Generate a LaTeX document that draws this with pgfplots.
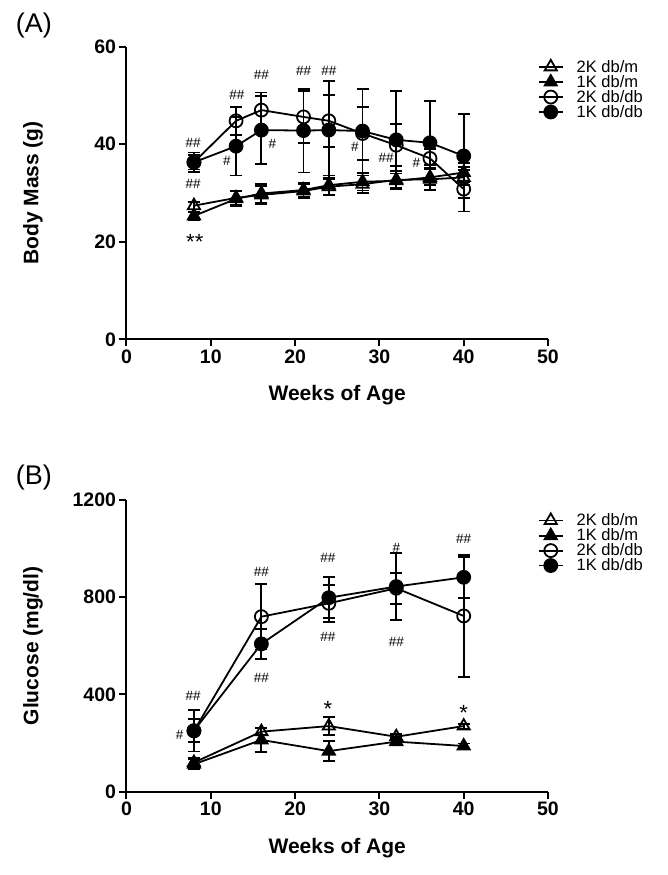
\documentclass[border=0pt]{standalone}
\usepackage{pgfplots}
\pgfplotsset{compat=1.18}
\usepackage{fontspec}
\setmainfont{Liberation Sans}

\pgfplotsset{
 panel/.style={
  scale only axis, width=421.5pt,
  xmin=0, xmax=50, xtick={0,10,...,50},
  axis x line*=bottom, axis y line*=left,
  axis line style={line width=2pt, -},
  tick style={line width=2pt, black},
  major tick length=7pt, tick align=outside,
  tick label style={font=\bfseries\fontsize{19.5}{19.5}\selectfont},
  /pgf/number format/assume math mode=true,
  /pgf/number format/1000 sep={},
  clip=false,
  label style={font=\bfseries\fontsize{21}{21}\selectfont},
  legend style={draw=none, fill=none, inner sep=0pt, outer sep=0pt, anchor=north west,
    font=\fontsize{16.5}{16.5}\selectfont, row sep=1.5pt, column sep=13pt,
    nodes={inner sep=0pt}},
  legend cell align=left,
  legend image code/.code={\draw[mark repeat=2,mark phase=2] plot coordinates {(0pt,0pt)(12pt,0pt)(24pt,0pt)};},
 },
 eb/.style={error bars/.cd, y dir=both, y explicit,
   error bar style={line width=1.8pt, black},
   error mark options={line width=1.8pt, mark size=6pt, rotate=90, black}},
 otri/.style={black, line width=1.8pt, mark=triangle, mark size=7pt, mark options={fill=none, solid}},
 ftri/.style={black, line width=1.8pt, mark=triangle*, mark size=7pt, mark options={fill=black, solid}},
 ocirc/.style={black, line width=1.8pt, mark=o, mark size=6.5pt, mark options={fill=none, solid}},
 fcirc/.style={black, line width=1.8pt, mark=*, mark size=6.5pt, mark options={fill=black, solid}},
}
\tikzset{
 hashs/.style={font=\fontsize{13.5}{13.5}\selectfont, inner sep=0pt},
 star/.style={font=\fontsize{22}{22}\selectfont, inner sep=0pt, yshift=-4.5pt},
}

\begin{document}
\begin{tikzpicture}[x=1pt,y=1pt]
\useasboundingbox (0,0) rectangle (667,875);

% ---------------- Panel A ----------------
\begin{axis}[panel, at={(126.5pt,535.7pt)}, anchor=south west, height=292.6pt,
  ymin=0, ymax=60, ytick={0,20,40,60},
  xlabel={Weeks of Age}, ylabel={Body Mass (g)},
  xlabel style={at={(axis description cs:0.5,-0.191)}, anchor=center},
  ylabel style={at={(axis description cs:-0.222,0.5)}, anchor=center},
  legend style={at={(0.976,0.955)}}]
\addplot[otri, eb] table[x=w, y=m, y error=e] {
w m e
8 27.4 0.8
13 29.0 1.5
16 29.6 1.8
21 30.4 1.5
24 31.3 1.8
28 31.8 1.8
32 32.7 1.8
36 32.8 2.2
40 33.2 1.5
};
\addlegendentry{2K db/m}
\addplot[ftri, eb] table[x=w, y=m, y error=e] {
w m e
8 25.3 0.8
13 28.8 1.5
16 29.9 2.0
21 30.6 1.5
24 31.6 2.0
28 32.3 1.8
32 32.5 1.5
36 33.2 2.5
40 34.2 2.0
};
\addlegendentry{1K db/m}
\addplot[ocirc, eb] table[x=w, y=m, y error=e] {
w m e
8 36.3 1.5
13 44.8 2.9
16 47.0 3.6
21 45.6 5.3
24 44.8 5.3
28 42.2 5.5
32 39.8 4.3
36 37.1 2.0
40 30.8 4.6
};
\addlegendentry{2K db/db}
\addplot[fcirc, eb] table[x=w, y=m, y error=e] {
w m e
8 36.3 2.0
13 39.6 6.0
16 42.9 7.0
21 42.8 8.6
24 42.9 10.1
28 42.7 8.6
32 40.9 10.0
36 40.3 8.6
40 37.6 8.6
};
\addlegendentry{1K db/db}
\node[hashs] at (axis cs:7.9,40.2) {\#\#};
\node[hashs] at (axis cs:7.9,31.8) {\#\#};
\node[star] at (axis cs:8.1,20.9) {**};
\node[hashs] at (axis cs:13.1,50.1) {\#\#};
\node[hashs] at (axis cs:11.9,36.6) {\#};
\node[hashs] at (axis cs:16.0,54.3) {\#\#};
\node[hashs] at (axis cs:17.3,40.0) {\#};
\node[hashs] at (axis cs:21.0,55.1) {\#\#};
\node[hashs] at (axis cs:24.0,55.1) {\#\#};
\node[hashs] at (axis cs:27.1,39.4) {\#};
\node[hashs] at (axis cs:30.8,37.1) {\#\#};
\node[hashs] at (axis cs:34.4,36.1) {\#};
\node[font=\fontsize{27}{27}\selectfont] at (axis description cs:-0.2195,1.074) {(A)};
\end{axis}

% ---------------- Panel B ----------------
\begin{axis}[panel, at={(126.5pt,83.3pt)}, anchor=south west, height=291.7pt,
  ymin=0, ymax=1200, ytick={0,400,800,1200},
  xlabel={Weeks of Age}, ylabel={Glucose (mg/dl)},
  xlabel style={at={(axis description cs:0.5,-0.192)}, anchor=center},
  ylabel style={at={(axis description cs:-0.222,0.5)}, anchor=center},
  legend style={at={(0.976,0.954)}}]
\addplot[otri, eb] table[x=w, y=m, y error=e] {
w m e
8 120 20
16 247 15
24 270 38
32 226 12
40 270 10
};
\addlegendentry{2K db/m}
\addplot[ftri, eb] table[x=w, y=m, y error=e] {
w m e
8 113 20
16 213 50
24 167 42
32 206 15
40 188 10
};
\addlegendentry{1K db/m}
\addplot[ocirc, eb] table[x=w, y=m, y error=e] {
w m e
8 250 85
16 720 135
24 775 76
32 837 64
40 723 250
};
\addlegendentry{2K db/db}
\addplot[fcirc, eb] table[x=w, y=m, y error=e] {
w m e
8 251 48
16 608 62
24 798 84
32 844 137
40 882 85
};
\addlegendentry{1K db/db}
\node[hashs] at (axis cs:7.9,394) {\#\#};
\node[hashs] at (axis cs:6.3,233) {\#};
\node[hashs] at (axis cs:16,905) {\#\#};
\node[hashs] at (axis cs:16,467) {\#\#};
\node[star] at (axis cs:23.9,357) {*};
\node[hashs] at (axis cs:23.9,960) {\#\#};
\node[hashs] at (axis cs:23.9,638) {\#\#};
\node[hashs] at (axis cs:32,1002) {\#};
\node[hashs] at (axis cs:32,617) {\#\#};
\node[hashs] at (axis cs:40,1039) {\#\#};
\node[star] at (axis cs:40,343) {*};
\node[font=\fontsize{27}{27}\selectfont] at (axis description cs:-0.2195,1.0754) {(B)};
\end{axis}
\end{tikzpicture}
\end{document}
